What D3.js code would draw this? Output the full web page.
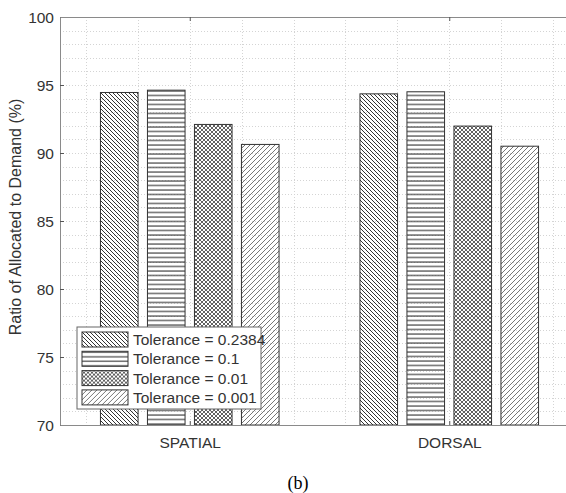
<!DOCTYPE html>
<html>
<head>
<meta charset="utf-8">
<script src="https://cdn.jsdelivr.net/npm/d3@7"></script>
<style>
  body { margin: 0; background: #fff; }
  svg { display: block; }
  text { font-family: "Liberation Sans", Arial, sans-serif; fill: #333; }
</style>
</head>
<body>
<svg id="chart"></svg>
<script>
// data
const categories = ["SPATIAL", "DORSAL"];
const tolerances = ["Tolerance = 0.2384", "Tolerance = 0.1", "Tolerance = 0.01", "Tolerance = 0.001"];
const spatialValues = [94.45, 94.62, 92.1, 90.63];
const dorsalValues = [94.35, 94.5, 91.98, 90.5];
const yTicks = [70, 75, 80, 85, 90, 95, 100];

const W = 566, H = 493;
const svg = d3.select("#chart").attr("width", W).attr("height", H);

// plot box (right edge is cut off by the picture)
const x = d3.scaleLinear().domain([0.5, 2.5]).range([60, 579]);
const y = d3.scaleLinear().domain([70, 100]).range([425, 17]);
const xSub = d3.scaleBand().domain(tolerances).range([-0.3441, 0.3441]).paddingInner(0.2);

// hatch patterns
const defs = svg.append("defs");
const pBack = defs.append("pattern").attr("id", "p0").attr("patternUnits", "userSpaceOnUse")
    .attr("width", 4).attr("height", 4);
pBack.append("path").attr("d", "M-1,-1L5,5M-1,3L1,5M3,-1L5,1").attr("stroke", "#333").attr("stroke-width", 1);

const pHor = defs.append("pattern").attr("id", "p1").attr("patternUnits", "userSpaceOnUse")
    .attr("width", 8).attr("height", 4.5);
pHor.append("line").attr("x1", 0).attr("x2", 8).attr("y1", 1).attr("y2", 1).attr("stroke", "#333").attr("stroke-width", 1.1);

const pCross = defs.append("pattern").attr("id", "p2").attr("patternUnits", "userSpaceOnUse")
    .attr("width", 4).attr("height", 4);
pCross.append("path").attr("d", "M-1,-1L5,5M-1,3L1,5M3,-1L5,1M-1,5L5,-1M-1,1L1,-1M3,5L5,3")
    .attr("stroke", "#3a3a3a").attr("stroke-width", 0.8);

const pFwd = defs.append("pattern").attr("id", "p3").attr("patternUnits", "userSpaceOnUse")
    .attr("width", 5).attr("height", 5);
pFwd.append("path").attr("d", "M-1,6L6,-1M-1,1L1,-1M4,6L6,4").attr("stroke", "#777").attr("stroke-width", 1);

const fills = tolerances.map((t, i) => `url(#p${i})`);

// grid (minor + major, all dotted)
const gridY = d3.range(71, 100);
const gridX = d3.range(0.6, 2.45, 0.2);
const grid = svg.append("g").attr("stroke", "#d4d4d4").attr("stroke-dasharray", "1,2").attr("stroke-width", 1);
grid.selectAll(".gy").data(gridY).join("line")
    .attr("x1", x(0.5)).attr("x2", x(2.5))
    .attr("y1", d => Math.round(y(d)) + 0.5).attr("y2", d => Math.round(y(d)) + 0.5);
grid.selectAll(".gx").data(gridX).join("line")
    .attr("y1", y(100)).attr("y2", y(70))
    .attr("x1", d => Math.round(x(d)) + 0.5).attr("x2", d => Math.round(x(d)) + 0.5);

// bars
const table = categories.map((c, i) => ({
    cat: c, pos: i + 1,
    values: [spatialValues, dorsalValues][i]
}));

const groups = svg.selectAll(".grp").data(table).join("g").attr("class", "grp");
groups.selectAll("rect")
    .data(d => d.values.map((v, j) => ({ pos: d.pos, tol: tolerances[j], v, j })))
    .join("rect")
    .attr("x", d => x(d.pos + xSub(d.tol)))
    .attr("width", d => x(d.pos + xSub(d.tol) + xSub.bandwidth()) - x(d.pos + xSub(d.tol)))
    .attr("y", d => y(d.v))
    .attr("height", d => y(70) - y(d.v))
    .attr("fill", d => fills[d.j])
    .attr("stroke", "#333")
    .attr("stroke-width", 1);

// axes
const axisColor = "#8a8a8a";
const yAxis = svg.append("g").attr("transform", `translate(${x(0.5)},0)`)
    .call(d3.axisLeft(y).tickValues(yTicks).tickSize(-4).tickPadding(6));
const xAxis = svg.append("g").attr("transform", `translate(0,${y(70)})`)
    .call(d3.axisBottom(x).tickValues([1, 2]).tickFormat((d, i) => categories[i]).tickSize(-4).tickPadding(12));
const xTop = svg.append("g").attr("transform", `translate(0,${y(100)})`)
    .call(d3.axisTop(x).tickValues([1, 2]).tickFormat("").tickSize(-4));

[yAxis, xAxis, xTop].forEach(a => {
    a.select(".domain").attr("stroke", axisColor);
    a.selectAll(".tick line").attr("stroke", "#555");
    a.selectAll("text").attr("fill", "#333").style("font-size", "15.5px")
        .style("font-family", "'Liberation Sans', Arial, sans-serif");
});
yAxis.selectAll("text").attr("dy", "0.36em");

// y label
svg.append("text")
    .attr("transform", `translate(21,${(y(70) + y(100)) / 2 - 4}) rotate(-90)`)
    .attr("text-anchor", "middle")
    .style("font-size", "16px")
    .text("Ratio of Allocated to Demand (%)");

// legend
const legend = svg.append("g").attr("transform", "translate(77,327)");
legend.append("rect").attr("width", 184).attr("height", 82)
    .attr("fill", "#fff").attr("stroke", "#666").attr("stroke-width", 1);
const items = legend.selectAll(".item").data(tolerances).join("g")
    .attr("transform", (d, i) => `translate(5,${5 + i * 19.3})`);
items.append("rect").attr("width", 46).attr("height", 15)
    .attr("fill", (d, i) => fills[i]).attr("stroke", "#333");
items.append("text").attr("x", 51).attr("y", 7.5).attr("dy", "0.36em")
    .style("font-size", "15.5px").text(d => d);

// caption
svg.append("text")
    .attr("x", 298).attr("y", 489)
    .attr("text-anchor", "middle")
    .style("font-family", "'Liberation Serif', 'Times New Roman', serif")
    .style("font-size", "18px").style("fill", "#000")
    .text("(b)");
</script>
</body>
</html>
